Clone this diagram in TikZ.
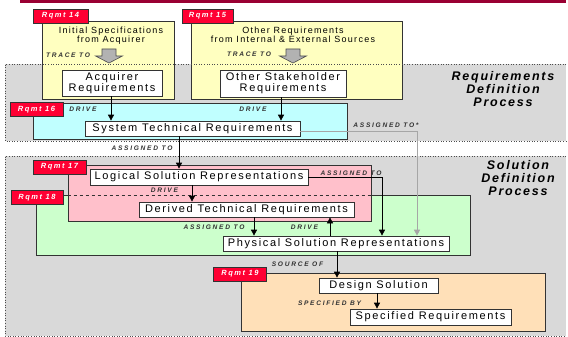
\documentclass[tikz,border=0pt]{standalone}
\usepackage{fontspec}
\setmainfont{Liberation Sans}
\newfontfamily\boxfont[LetterSpace=15]{Liberation Sans}
\newfontfamily\labfont[LetterSpace=26]{Liberation Sans}
\newfontfamily\rqfont[LetterSpace=20]{Liberation Sans}
\newfontfamily\titfont[LetterSpace=14]{Liberation Sans}
\newfontfamily\srcfont[LetterSpace=14]{Liberation Sans}
\usetikzlibrary{arrows.meta}
\definecolor{topbar}{HTML}{990033}
\definecolor{rqred}{HTML}{FF0033}
\definecolor{ylw}{HTML}{FFFFC0}
\definecolor{cyn}{HTML}{C0FFFF}
\definecolor{pnk}{HTML}{FFC0CB}
\definecolor{grn}{HTML}{CCFFCC}
\definecolor{org}{HTML}{FFE0B8}
\definecolor{bggray}{HTML}{D9D9D9}
\definecolor{lbl}{HTML}{333333}
\definecolor{edge}{HTML}{333333}
\tikzset{
  region/.style={fill=bggray},
  regionedge/.style={draw=black!70, line width=0.6pt, dotted},
  cont/.style={draw=edge, line width=0.8pt, inner sep=0pt},
  rq/.style={fill=rqred, draw=edge, line width=0.6pt, text=white, inner sep=0pt,
    font=\rqfont\bfseries\itshape\fontsize{7.5}{8}\selectfont,
    minimum width=53pt, minimum height=14pt},
  wbox/.style={fill=white, draw=edge, line width=0.7pt, inner sep=0pt, align=center,
    font=\boxfont\fontsize{11}{11}\selectfont},
  srctext/.style={align=center, inner sep=0pt, font=\srcfont\fontsize{9}{9.5}\selectfont},
  lab/.style={inner sep=0pt, text=lbl, font=\labfont\bfseries\itshape\fontsize{6.6}{7}\selectfont},
  title/.style={align=center, inner sep=0pt, font=\titfont\bfseries\itshape\fontsize{12.5}{13}\selectfont},
  arr/.style={-{Triangle[length=6pt,width=6pt]}, line width=0.7pt},
  garr/.style={-{Triangle[length=6pt,width=6pt]}, line width=0.9pt, draw=black!35, color=black!35},
  blockarrow/.style={fill=black!30, draw=black!70, line width=0.6pt},
}
\begin{document}
\begin{tikzpicture}[x=1pt,y=-1pt]
\useasboundingbox (0,0) rectangle (568,337);
% top bar
\fill[topbar] (20,0) rectangle (566,3);
% gray regions
\fill[region] (5,64) rectangle (566,141);
\fill[region] (5,156) rectangle (566,336);
% yellow source boxes
\node[cont, fill=ylw, minimum width=132pt, minimum height=78pt] (Y14) at (108,60) {};
\node[cont, fill=ylw, minimum width=211pt, minimum height=78pt] (Y15) at (296.5,60) {};
% region borders
\draw[regionedge] (566,64) -- (5,64) -- (5,141) -- (566,141);
\draw[regionedge] (566,156) -- (5,156) -- (5,336) -- (566,336);
% source texts
\node[srctext] (T14) at (111,35.5) {Initial Specifications\\from Acquirer};
\node[srctext] (T15) at (293,35) {Other Requirements\\from Internal \& External Sources};
\node[lab] (tr1) at (68,55) {TRACE TO};
\node[lab] (tr2) at (249,54) {TRACE TO};
\draw[blockarrow] (102,49) -- (116,49) -- (116,56) -- (122.5,56) -- (109,63) -- (95.5,56) -- (102,56) -- cycle;
\draw[blockarrow] (286,49) -- (300,49) -- (300,56) -- (306.5,56) -- (293,63) -- (279.5,56) -- (286,56) -- cycle;
% containers
\node[cont, fill=cyn, minimum width=314pt, minimum height=36pt] (C16) at (190,121) {};
\node[cont, fill=grn, minimum width=434pt, minimum height=60pt] (C18) at (253,225) {};
\node[cont, fill=pnk, minimum width=303pt, minimum height=56pt] (C17) at (219.5,193) {};
\draw[dashed, line width=0.7pt, draw=edge] (C17.west |- 0,195) -- (C17.east |- 0,195);
\node[cont, fill=org, minimum width=304pt, minimum height=58pt] (C19) at (393,302) {};
% titles
\node[title] (RDP) at (503,89) {Requirements\\Definition\\Process};
\node[title] (SDP) at (518,178) {Solution\\Definition\\Process};
% inner boxes
\node[wbox, minimum width=100pt, minimum height=26pt] (AR) at (112,83) {Acquirer\\Requirements};
\node[wbox, minimum width=126pt, minimum height=27pt] (OSR) at (283,83.5) {Other Stakeholder\\Requirements};
\node[wbox, minimum width=215pt, minimum height=15pt] (STR) at (192.5,128.5) {System Technical Requirements};
\node[wbox, minimum width=218pt, minimum height=16pt] (LSR) at (199,177) {Logical Solution Representations};
\node[wbox, minimum width=215pt, minimum height=15pt] (DTR) at (246.5,209.5) {Derived Technical Requirements};
\node[wbox, minimum width=226pt, minimum height=15pt] (PSR) at (336,243.5) {Physical Solution Representations};
\node[wbox, minimum width=119pt, minimum height=15pt] (DS) at (378.5,285.5) {Design Solution};
\node[wbox, minimum width=161pt, minimum height=16pt] (SR) at (430.5,317) {Specified Requirements};
% requirement tags
\node[rq, minimum width=55pt] (R14) at (60.5,16) {Rqmt 14};
\node[rq, minimum width=51pt] (R15) at (207.5,16) {Rqmt 15};
\node[rq] (R16) at (36.5,109.5) {Rqmt 16};
\node[rq] (R17) at (59.5,167) {Rqmt 17};
\node[rq, minimum width=52pt] (R18) at (37,197.5) {Rqmt 18};
\node[rq] (R19) at (240,274) {Rqmt 19};
% coordinates for connectors
\coordinate (xa) at (111,0);
\coordinate (xb) at (281,0);
\coordinate (xc) at (179,0);
\coordinate (xd) at (192,0);
\coordinate (xe) at (254,0);
\coordinate (xf) at (330,0);
\coordinate (xg) at (337,0);
\coordinate (xh) at (377,0);
\coordinate (gA) at (417,131.5);
\coordinate (bA) at (382,177);
% connectors
\draw[arr] (AR.south -| xa) -- (STR.north -| xa);
\draw[arr] (OSR.south -| xb) -- (STR.north -| xb);
\draw[arr] (STR.south -| xc) -- (LSR.north -| xc);
\draw[arr] (LSR.south -| xd) -- (DTR.north -| xd);
\draw[arr] (DTR.south -| xe) -- (PSR.north -| xe);
\draw[arr] (PSR.north -| xf) -- (DTR.south -| xf);
\draw[arr] (LSR.east) -- (bA) -- (bA |- PSR.north);
\draw[garr] (gA -| STR.east) -- (gA) -- (gA |- PSR.north);
\draw[arr] (PSR.south -| xg) -- (DS.north -| xg);
\draw[arr] (DS.south -| xh) -- (SR.north -| xh);
% connector labels
\node[lab] (l1) at (83,109) {DRIVE};
\node[lab] (l2) at (253,109) {DRIVE};
\node[lab] (l3) at (386,125) {ASSIGNED TO*};
\node[lab] (l4) at (142,148) {ASSIGNED TO};
\node[lab] (l5) at (351,173) {ASSIGNED TO};
\node[lab] (l6) at (164.5,190) {DRIVE};
\node[lab] (l7) at (214,227) {ASSIGNED TO};
\node[lab] (l8) at (304.5,227) {DRIVE};
\node[lab] (l9) at (297.5,264) {SOURCE OF};
\node[lab] (l10) at (329.5,303) {SPECIFIED BY};
\end{tikzpicture}
\end{document}
